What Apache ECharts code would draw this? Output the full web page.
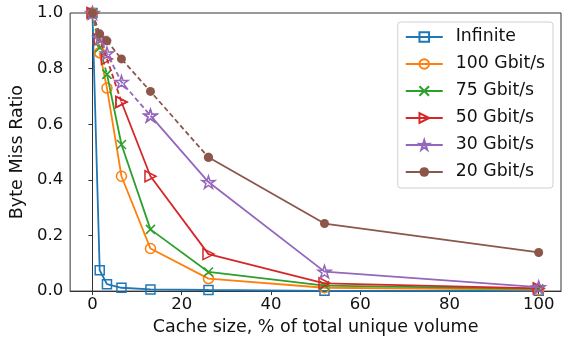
<!DOCTYPE html>
<html>
<head>
<meta charset="utf-8">
<script src="https://cdn.jsdelivr.net/npm/echarts@6/dist/echarts.min.js"></script>
<style>
  html, body { margin: 0; padding: 0; background: #fff; }
  #chart { width: 569px; height: 341px; }
</style>
</head>
<body>
<div id="chart"></div>
<script>
// Cache size as % of total unique volume
const cacheSize = [0, 1.625, 3.25, 6.5, 13, 26, 52, 100];

// Byte miss ratio per link speed
const seriesNames = ['Infinite', '100 Gbit/s', '75 Gbit/s', '50 Gbit/s', '30 Gbit/s', '20 Gbit/s'];
const infinite = [1.0, 0.075, 0.025, 0.012, 0.006, 0.004, 0.001, 0.001];
const gbit100  = [1.0, 0.857, 0.73, 0.413, 0.153, 0.045, 0.012, 0.005];
const gbit75   = [1.0, 0.875, 0.78, 0.527, 0.222, 0.069, 0.02, 0.008];
const gbit50   = [1.0, 0.905, 0.835, 0.68, 0.413, 0.133, 0.028, 0.01];
const gbit30   = [1.0, 0.91, 0.855, 0.752, 0.631, 0.392, 0.07, 0.014];
const gbit20   = [1.0, 0.925, 0.9, 0.835, 0.718, 0.481, 0.243, 0.139];

// Last point index of the dashed (leading) part of each curve; 0 = fully solid
const dashedUntil = [0, 1, 2, 3, 4, 5];

const xTicks = [0, 20, 40, 60, 80, 100];

const values = [infinite, gbit100, gbit75, gbit50, gbit30, gbit20];
const colors = ['#1f77b4', '#ff7f0e', '#2ca02c', '#d62728', '#9467bd', '#8c564b'];

const STAR = 'path://M50 0L61.17 34.63L97.55 34.55L68.07 55.87L79.39 90.45L50 69L20.61 90.45L31.93 55.87L2.45 34.55L38.83 34.63Z';
const CROSS = 'path://M0 0L10 10M10 0L0 10';
const markers = [
  { symbol: 'rect', size: 9, rotate: 0, filled: false },
  { symbol: 'circle', size: 10, rotate: 0, filled: false },
  { symbol: CROSS, size: 9, rotate: 0, filled: false },
  { symbol: 'triangle', size: 11, rotate: -90, filled: false },
  { symbol: STAR, size: 13, rotate: 0, filled: false },
  { symbol: 'circle', size: 9, rotate: 0, filled: true }
];

function pts(arr, from, to) {
  const out = [];
  for (let i = from; i <= to; i++) out.push([cacheSize[i], arr[i]]);
  return out;
}

function makeSeries(i, data, dashed) {
  const m = markers[i];
  return {
    type: 'line',
    name: seriesNames[i],
    data: data,
    symbol: m.symbol,
    symbolSize: m.size,
    symbolRotate: m.rotate,
    symbolKeepAspect: true,
    showAllSymbol: true,
    lineStyle: { color: colors[i], width: 1.8, type: dashed ? [5, 3] : 'solid' },
    itemStyle: {
      color: m.filled ? colors[i] : 'rgba(255,255,255,0)',
      borderColor: colors[i],
      borderWidth: m.filled ? 0 : 1.5
    },
    emphasis: { disabled: true },
    z: 2 + i
  };
}

const series = [];
// Solid parts first so the legend picks up their style
values.forEach((arr, i) => {
  series.push(makeSeries(i, pts(arr, dashedUntil[i], cacheSize.length - 1), false));
});
values.forEach((arr, i) => {
  if (dashedUntil[i] > 0) series.push(makeSeries(i, pts(arr, 0, dashedUntil[i]), true));
});

const font = 'DejaVu Sans';
const chart = echarts.init(document.getElementById('chart'), null, { renderer: 'canvas' });
chart.setOption({
  animation: false,
  backgroundColor: '#fff',
  grid: { left: 70, right: 8, top: 13, bottom: 49, show: true, borderColor: '#333', borderWidth: 1, containLabel: false },
  legend: {
    data: seriesNames,
    orient: 'vertical',
    right: 16,
    top: 22,
    padding: [5, 8, 6, 7],
    itemWidth: 37,
    itemHeight: 12,
    itemGap: 7,
    borderColor: '#d0d0d0',
    borderWidth: 1,
    borderRadius: 3,
    backgroundColor: 'rgba(255,255,255,0.85)',
    textStyle: { fontFamily: font, fontSize: 17.3, color: '#111', lineHeight: 20, padding: [0, 0, 0, 8] },
    selectedMode: false
  },
  xAxis: {
    type: 'value',
    min: -5,
    max: 105,
    name: 'Cache size, % of total unique volume',
    nameLocation: 'middle',
    nameGap: 23,
    nameTextStyle: { fontFamily: font, fontSize: 17.5, color: '#111' },
    axisLine: { show: true, lineStyle: { color: '#333', width: 1 } },
    axisTick: { show: true, length: 4, inside: false, customValues: xTicks, lineStyle: { color: '#333' } },
    axisLabel: { fontFamily: font, fontSize: 16.5, color: '#111', margin: 5, customValues: xTicks },
    splitLine: { show: false }
  },
  yAxis: {
    type: 'value',
    min: 0,
    max: 1,
    interval: 0.2,
    name: 'Byte Miss Ratio',
    nameLocation: 'middle',
    nameGap: 37,
    nameTextStyle: { fontFamily: font, fontSize: 17.5, color: '#111' },
    axisLine: { show: true, lineStyle: { color: '#333', width: 1 } },
    axisTick: { show: true, length: 4, lineStyle: { color: '#333' } },
    axisLabel: { fontFamily: font, fontSize: 16.5, color: '#111', margin: 7, formatter: v => v.toFixed(1) },
    splitLine: { show: false }
  },
  series: series
});
</script>
</body>
</html>
